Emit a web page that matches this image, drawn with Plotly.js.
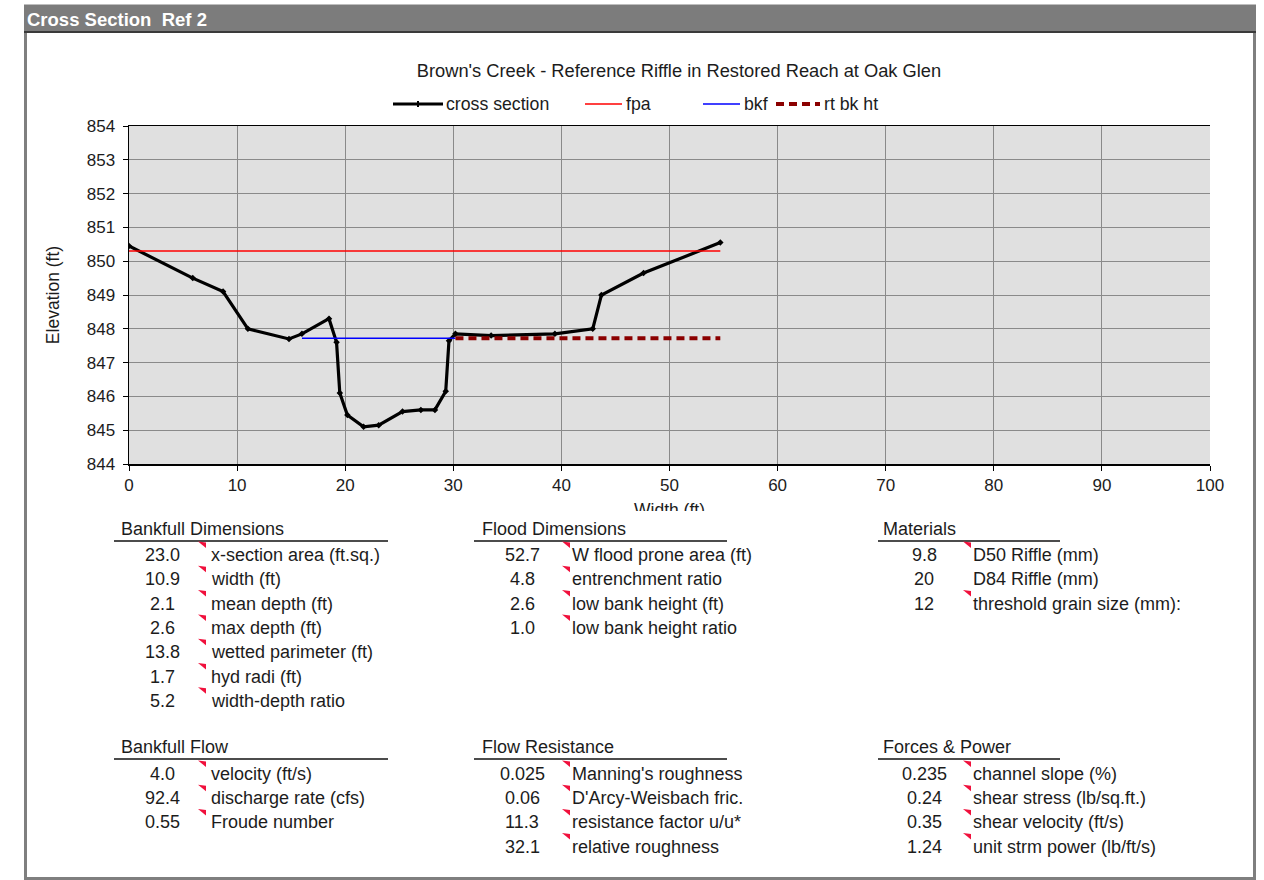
<!DOCTYPE html>
<html>
<head>
<meta charset="utf-8">
<script src="https://cdn.plot.ly/plotly-3.0.1.min.js"></script>
<style>
  html, body { margin: 0; padding: 0; background: #ffffff; }
  #wrap { position: relative; width: 1264px; height: 880px; overflow: hidden; }
  #chart { position: absolute; left: 0; top: 0; width: 1264px; height: 880px; }
  #cover { position: absolute; left: 590px; top: 511px; width: 170px; height: 9px; background: #ffffff; z-index: 5; }
</style>
</head>
<body>
<div id="wrap">
  <div id="chart"></div>
  <div id="cover"></div>
</div>
<script>
// ---------- chart data ----------
const chartTitle = "Brown's Creek - Reference Riffle in Restored Reach at Oak Glen";
const panelTitle = "Cross Section  Ref 2";

const xsStation = [0, 5.9, 8.7, 11.0, 14.8, 16.0, 18.5, 19.2, 19.5, 20.2, 21.7, 23.1, 25.3, 27.0, 28.3, 29.3, 29.6, 30.2, 33.5, 39.4, 42.9, 43.7, 47.6, 54.7];
const xsElev    = [850.45, 849.5, 849.1, 848.0, 847.7, 847.85, 848.3, 847.6, 846.1, 845.45, 845.1, 845.15, 845.55, 845.6, 845.6, 846.15, 847.65, 847.85, 847.8, 847.85, 848.0, 849.0, 849.65, 850.55];

const fpaX = [0, 54.7];
const fpaY = [850.3, 850.3];
const bkfX = [16.0, 30.2];
const bkfY = [847.72, 847.72];
const rtbkX = [30.2, 54.7];
const rtbkY = [847.72, 847.72];

const seriesNames = ["cross section", "fpa", "bkf", "rt bk ht"];

// ---------- table data ----------
const bankfullDimTitle = "Bankfull Dimensions";
const bankfullDimValues = ["23.0", "10.9", "2.1", "2.6", "13.8", "1.7", "5.2"];
const bankfullDimLabels = ["x-section area (ft.sq.)", "width (ft)", "mean depth (ft)", "max depth (ft)", "wetted parimeter (ft)", "hyd radi (ft)", "width-depth ratio"];
const bankfullDimFlags = [1, 1, 1, 1, 1, 1, 1];

const floodDimTitle = "Flood Dimensions";
const floodDimValues = ["52.7", "4.8", "2.6", "1.0"];
const floodDimLabels = ["W flood prone area (ft)", "entrenchment ratio", "low bank height (ft)", "low bank height ratio"];
const floodDimFlags = [1, 1, 1, 1];

const materialsTitle = "Materials";
const materialsValues = ["9.8", "20", "12"];
const materialsLabels = ["D50 Riffle (mm)", "D84 Riffle (mm)", "threshold grain size (mm):"];
const materialsFlags = [1, 0, 1];

const bankfullFlowTitle = "Bankfull Flow";
const bankfullFlowValues = ["4.0", "92.4", "0.55"];
const bankfullFlowLabels = ["velocity (ft/s)", "discharge rate (cfs)", "Froude number"];
const bankfullFlowFlags = [1, 1, 1];

const flowResTitle = "Flow Resistance";
const flowResValues = ["0.025", "0.06", "11.3", "32.1"];
const flowResLabels = ["Manning's roughness", "D'Arcy-Weisbach fric.", "resistance factor u/u*", "relative roughness"];
const flowResFlags = [1, 1, 1, 1];

const forcesTitle = "Forces & Power";
const forcesValues = ["0.235", "0.24", "0.35", "1.24"];
const forcesLabels = ["channel slope (%)", "shear stress (lb/sq.ft.)", "shear velocity (ft/s)", "unit strm power (lb/ft/s)"];
const forcesFlags = [1, 1, 1, 1];

// ---------- layout geometry (pixels) ----------
const L = 129, R = 1210, T = 126, B = 464;
const W = R - L, H = B - T;
function px(x) { return (x - L) / W; }
function py(y) { return (B - y) / H; }

const FONT = "Liberation Sans, Arial, sans-serif";
const TXT = "#1c1c1c";
const TFS = 18;   // table font size
const APAD = 2;   // annotation inner padding

const columns = [
  { hx: 121, ux0: 114, ux1: 388, vc: 162, mk: 198, lx: 211 },
  { hx: 482, ux0: 474, ux1: 727, vc: 522, mk: 562, lx: 572 },
  { hx: 883, ux0: 878, ux1: 1060, vc: 924, mk: 963, lx: 973 }
];
const topSection = { hy: 529, uy: 541, r0: 555, step: 24.3 };
const botSection = { hy: 747, uy: 759, r0: 774, step: 24.2 };

const tables = [
  { col: 0, sec: topSection, title: bankfullDimTitle, vals: bankfullDimValues, labs: bankfullDimLabels, flags: bankfullDimFlags },
  { col: 1, sec: topSection, title: floodDimTitle, vals: floodDimValues, labs: floodDimLabels, flags: floodDimFlags },
  { col: 2, sec: topSection, title: materialsTitle, vals: materialsValues, labs: materialsLabels, flags: materialsFlags },
  { col: 0, sec: botSection, title: bankfullFlowTitle, vals: bankfullFlowValues, labs: bankfullFlowLabels, flags: bankfullFlowFlags },
  { col: 1, sec: botSection, title: flowResTitle, vals: flowResValues, labs: flowResLabels, flags: flowResFlags },
  { col: 2, sec: botSection, title: forcesTitle, vals: forcesValues, labs: forcesLabels, flags: forcesFlags }
];

// legend geometry (pixels): line start/end, text start
const legendY = 104;
const legendItems = [
  { x0: 393, x1: 443, tx: 446 },
  { x0: 585, x1: 622, tx: 626 },
  { x0: 703, x1: 740, tx: 744 },
  { x0: 776, x1: 820, tx: 824 }
];

const annotations = [];
const shapes = [];

// outer frame and header bar
shapes.push({ type: "rect", xref: "paper", yref: "paper", x0: px(25.5), x1: px(1254.5), y0: py(878.5), y1: py(6), line: { color: "#7f7f7f", width: 3 }, fillcolor: "rgba(0,0,0,0)", layer: "below" });
shapes.push({ type: "rect", xref: "paper", yref: "paper", x0: px(24), x1: px(1256), y0: py(32), y1: py(5), line: { width: 0 }, fillcolor: "#7c7c7c", layer: "below" });
shapes.push({ type: "line", xref: "paper", yref: "paper", x0: px(24), x1: px(1256), y0: py(32), y1: py(32), line: { color: "#3a3a3a", width: 2 } });
annotations.push({ xref: "paper", yref: "paper", x: px(27 - APAD), y: py(20), xanchor: "left", yanchor: "middle", showarrow: false, text: "<b>" + panelTitle + "</b>", font: { family: FONT, size: 18.5, color: "#ffffff" } });

tables.forEach(function (t) {
  const c = columns[t.col];
  annotations.push({ xref: "paper", yref: "paper", x: px(c.hx - APAD), y: py(t.sec.hy), xanchor: "left", yanchor: "middle", showarrow: false, text: t.title, font: { family: FONT, size: TFS, color: TXT } });
  shapes.push({ type: "line", xref: "paper", yref: "paper", x0: px(c.ux0), x1: px(c.ux1), y0: py(t.sec.uy), y1: py(t.sec.uy), line: { color: "#111111", width: 1.3 } });
  t.vals.forEach(function (v, i) {
    const ry = t.sec.r0 + i * t.sec.step;
    annotations.push({ xref: "paper", yref: "paper", x: px(c.vc), y: py(ry), xanchor: "center", yanchor: "middle", showarrow: false, text: v, font: { family: FONT, size: TFS, color: TXT } });
    annotations.push({ xref: "paper", yref: "paper", x: px(c.lx - APAD), y: py(ry), xanchor: "left", yanchor: "middle", showarrow: false, text: t.labs[i], font: { family: FONT, size: TFS, color: TXT } });
    if (t.flags[i]) {
      const y0 = ry - 13.5;
      const p = "M " + px(c.mk) + "," + py(y0) + " L " + px(c.mk + 8) + "," + py(y0 + 1) + " L " + px(c.mk + 8) + "," + py(y0 + 6.5) + " Z";
      shapes.push({ type: "path", xref: "paper", yref: "paper", path: p, fillcolor: "#f0103c", line: { width: 0 } });
    }
  });
});

// ---------- traces ----------
const traces = [
  { x: xsStation, y: xsElev, name: seriesNames[0], type: "scatter", mode: "lines+markers",
    line: { color: "#000000", width: 3.2 }, marker: { color: "#000000", size: 5, symbol: "diamond" } },
  { x: fpaX, y: fpaY, name: seriesNames[1], type: "scatter", mode: "lines",
    line: { color: "#ff0000", width: 1.5 } },
  { x: bkfX, y: bkfY, name: seriesNames[2], type: "scatter", mode: "lines",
    line: { color: "#0000ff", width: 1.5 } },
  { x: rtbkX, y: rtbkY, name: seriesNames[3], type: "scatter", mode: "lines",
    line: { color: "#8b0000", width: 4, dash: "8px,5px" } }
];

// custom legend drawn from the traces' own names and styles
traces.forEach(function (tr, i) {
  const g = legendItems[i];
  shapes.push({ type: "line", xref: "paper", yref: "paper", x0: px(g.x0), x1: px(g.x1), y0: py(legendY), y1: py(legendY),
    line: { color: tr.line.color, width: tr.line.width, dash: tr.line.dash || "solid" } });
  if (tr.mode.indexOf("markers") >= 0) {
    const mx = (g.x0 + g.x1) / 2;
    shapes.push({ type: "line", xref: "paper", yref: "paper", x0: px(mx), x1: px(mx), y0: py(legendY - 3), y1: py(legendY + 3), line: { color: "#000000", width: 2 } });
  }
  annotations.push({ xref: "paper", yref: "paper", x: px(g.tx - APAD), y: py(legendY), xanchor: "left", yanchor: "middle", showarrow: false,
    text: tr.name, font: { family: FONT, size: 17.7, color: TXT } });
});

const layout = {
  width: 1264, height: 880,
  margin: { l: L, r: 1264 - R, t: T, b: 880 - B, pad: 0 },
  paper_bgcolor: "#ffffff",
  plot_bgcolor: "#e0e0e0",
  font: { family: FONT, size: 17, color: TXT },
  title: { text: chartTitle, x: px(679), xref: "paper", y: 1 - 71 / 880, yref: "container", xanchor: "center", yanchor: "middle", font: { family: FONT, size: 18.3, color: TXT } },
  showlegend: false,
  xaxis: {
    range: [0, 100], dtick: 10, tick0: 0, showgrid: true, gridcolor: "#8a8a8a", gridwidth: 1,
    zeroline: false, showline: true, linecolor: "#000000", linewidth: 1.5, mirror: true,
    ticks: "outside", ticklen: 5, tickcolor: "#000000", tickfont: { family: FONT, size: 17, color: TXT },
    title: { text: "Width (ft)", standoff: 10, font: { family: FONT, size: 17.5, color: TXT } }, automargin: false, fixedrange: true
  },
  yaxis: {
    range: [844, 854], dtick: 1, tick0: 844, showgrid: true, gridcolor: "#8a8a8a", gridwidth: 1,
    zeroline: false, showline: true, linecolor: "#000000", linewidth: 1.5,
    ticks: "outside", ticklen: 5, tickcolor: "#000000", tickfont: { family: FONT, size: 17, color: TXT },
    ticklabelstandoff: 4,
    title: { text: "Elevation (ft)", standoff: 22, font: { family: FONT, size: 17.5, color: TXT } }, automargin: false, fixedrange: true
  },
  shapes: shapes,
  annotations: annotations
};

Plotly.newPlot("chart", traces, layout, { displayModeBar: false, staticPlot: true });
</script>
</body>
</html>
